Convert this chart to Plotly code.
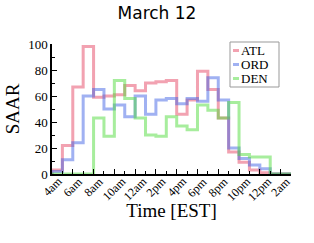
import plotly.graph_objects as go

# ---- data ----
bin_edges = list(range(4, 28))  # hourly bins from 4am to 3am next day
atl = [3, 22, 67, 98, 59, 60, 61, 68, 64, 70, 71, 72, 46, 57, 79, 65, 43, 17, 9, 3, 1, 0, 0]
ord_ = [2, 11, 24, 60, 65, 50, 53, 44, 60, 46, 57, 58, 54, 58, 56, 74, 57, 20, 12, 7, 4, 0, 0]
den = [0, 0, 0, 0, 43, 29, 72, 58, 43, 30, 29, 44, 37, 34, 53, 49, 43, 55, 15, 13, 13, 0, 0]
tick_hours = [4, 6, 8, 10, 12, 14, 16, 18, 20, 22, 24, 26]
tick_labels = ["4am", "6am", "8am", "10am", "12am", "2pm", "4pm", "6pm", "8pm", "10pm", "12pm", "2am"]
series_names = ["ATL", "ORD", "DEN"]
series_colors = ["rgba(230,70,100,0.5)", "rgba(65,100,230,0.5)", "rgba(80,220,60,0.5)"]

SERIF = "Liberation Serif, Times New Roman, serif"

fig = go.Figure()
for name, vals, col in zip(series_names, [atl, ord_, den], series_colors):
    xs = [bin_edges[0]] + bin_edges
    ys = [0] + vals + [0]
    fig.add_trace(go.Scatter(x=xs, y=ys, mode="lines", line=dict(color=col, width=3, shape="hv"),
                             name=name, showlegend=False, hoverinfo="skip"))

annotations = []
for h, lab in zip(tick_hours, tick_labels):
    L = 6.8 * len(lab)
    annotations.append(dict(x=h, y=0, xref="x", yref="paper", text=lab, showarrow=False,
                            textangle=-45, xanchor="center", yanchor="middle",
                            yshift=-(2 + (L + 10) * 0.354),
                            font=dict(family=SERIF, size=12, color="black")))

# manual legend
def px_x(p):
    return (p - 52) / 239
def px_y(p):
    return (174 - p) / 130

shapes = [dict(type="rect", xref="paper", yref="paper", x0=px_x(230), x1=px_x(279),
               y0=px_y(87), y1=px_y(42), line=dict(color="#999999", width=1), fillcolor="white")]
for i, (name, col) in enumerate(zip(series_names, series_colors)):
    yy = 50.5 + 14 * i
    shapes.append(dict(type="line", xref="paper", yref="paper", x0=px_x(233), x1=px_x(239),
                       y0=px_y(yy), y1=px_y(yy), line=dict(color=col, width=3)))
    annotations.append(dict(x=px_x(240), y=px_y(yy), xref="paper", yref="paper", text=name,
                            showarrow=False, xanchor="left", yanchor="middle", borderpad=0,
                            font=dict(family=SERIF, size=13, color="black")))

fig.update_layout(
    width=314, height=243,
    margin=dict(l=52, r=23, t=44, b=69),
    paper_bgcolor="white", plot_bgcolor="white",
    title=dict(text="March 12", x=0.5, xref="container", xanchor="center",
               y=1 - 13 / 243, yref="container", yanchor="middle",
               font=dict(family="DejaVu Sans", size=17, color="black")),
    annotations=annotations, shapes=shapes,
)
fig.update_xaxes(range=[4, 27], showgrid=False, zeroline=False, showline=True, linecolor="black",
                 linewidth=1.5, ticks="inside", ticklen=5, tickcolor="black", tickwidth=1,
                 tickvals=tick_hours, showticklabels=False,
                 minor=dict(dtick=1, tick0=4, ticks="inside", ticklen=3, tickcolor="black"),
                 title=dict(text="Time [EST]", standoff=29, font=dict(family=SERIF, size=19, color="black")))
fig.update_yaxes(range=[0, 100], showgrid=False, zeroline=False, showline=True, linecolor="black",
                 linewidth=1.5, ticks="inside", ticklen=5, tickcolor="black", tickwidth=1,
                 tickvals=[0, 20, 40, 60, 80, 100], tickfont=dict(family=SERIF, size=13, color="black"),
                 minor=dict(dtick=10, tick0=0, ticks="inside", ticklen=3, tickcolor="black"),
                 title=dict(text="SAAR", standoff=4, font=dict(family=SERIF, size=19, color="black")))

fig.write_html("out.html", config={"displayModeBar": False},
               post_script="document.body.style.margin='0px';")
